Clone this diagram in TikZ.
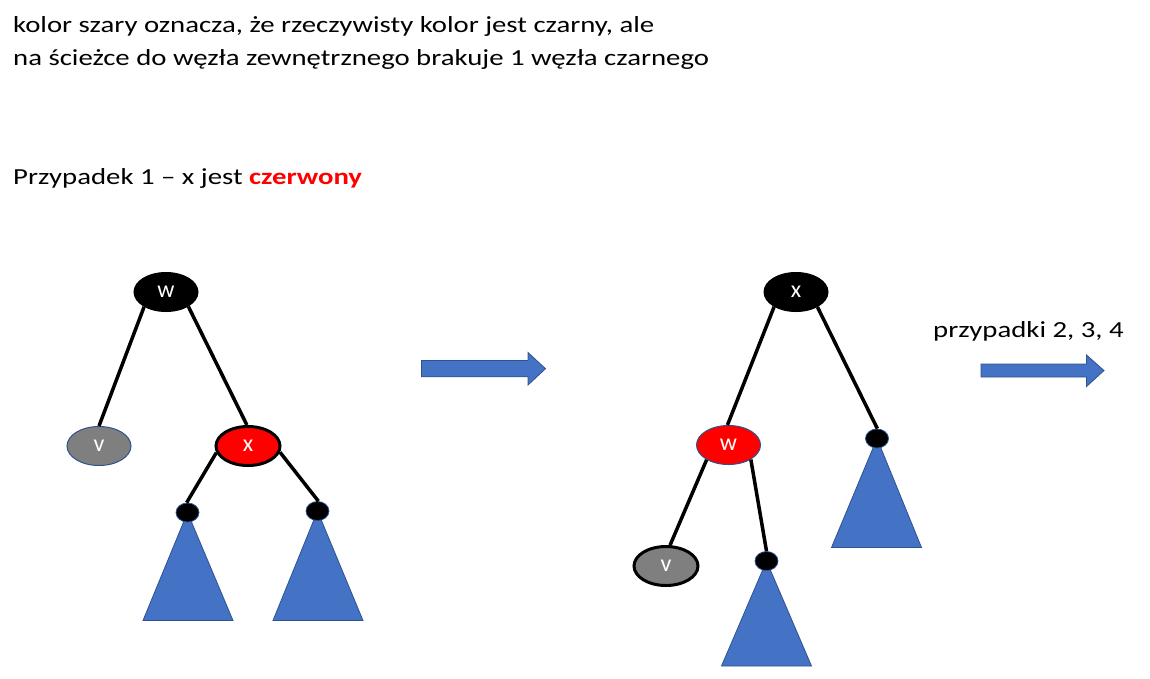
\documentclass[tikz,border=0pt]{standalone}
\usepackage{fontspec}
\setmainfont{Carlito}[FakeStretch=1.25]
\newfontfamily\labelfont{Carlito}
\usetikzlibrary{shapes.geometric,backgrounds}
\definecolor{tblue}{HTML}{4472C4}
\definecolor{tborder}{HTML}{2F528F}
\definecolor{tgray}{HTML}{7F7F7F}
\definecolor{tred}{HTML}{FF0000}
\tikzset{
  rbnode/.style={ellipse, minimum width=64pt, minimum height=39pt, inner sep=0pt,
     text=white, font=\labelfont\fontsize{24}{24}\selectfont},
  blacknode/.style={rbnode, fill=black, draw=black, line width=1pt},
  rednode/.style={rbnode, fill=tred, draw=tborder, line width=1pt},
  rednodethick/.style={rbnode, fill=tred, draw=black, line width=3pt},
  graynode/.style={rbnode, fill=tgray, draw=tborder, line width=1pt},
  graynodethick/.style={rbnode, fill=tgray, draw=black, line width=3pt},
  leaf/.style={ellipse, minimum width=23pt, minimum height=19pt, inner sep=0pt, fill=black, draw=tborder, line width=0.8pt},
  edge/.style={line width=3.5pt, black},
  subtree/.style={fill=tblue, draw=tborder, line width=0.8pt},
  blockarrow/.style={fill=tblue, draw=tborder, line width=0.8pt},
  txt/.style={anchor=base west, inner sep=0pt, font=\fontsize{23}{33}\selectfont}
}
\begin{document}
\begin{tikzpicture}[x=1pt, y=-1pt]
\useasboundingbox (0,0) rectangle (1150,678);

% texts
\node[txt] (t1) at (13,32) {kolor szary oznacza, że rzeczywisty kolor jest czarny, ale};
\node[txt] (t2) at (13,65) {na ścieżce do węzła zewnętrznego brakuje 1 węzła czarnego};
\node[txt] (t3) at (13,184) {Przypadek 1 -- x jest \textbf{\color{tred}czerwony}};
\node[txt] (t4) at (933,337) {przypadki 2, 3, 4};

% left tree
\node[blacknode] (lw) at (166,292) {w};
\node[graynode] (lv) at (99,446) {v};
\node[rednodethick] (lx) at (248,446) {x};
\node[leaf] (lda) at (187.5,512.5) {};
\node[leaf] (ldb) at (317.5,511) {};

% right tree
\node[blacknode] (rx) at (796,292) {x};
\node[rednode] (rw) at (728.5,445) {w};
\node[leaf] (rdc) at (877,438.5) {};
\node[graynodethick] (rv) at (666,566) {v};
\node[leaf] (rdd) at (766.5,561) {};

\begin{scope}[on background layer]
  \draw[subtree] (lda.center) -- (143,620.5) -- (233,620.5) -- cycle;
  \draw[subtree] (ldb.center) -- (273,620.5) -- (363,620.5) -- cycle;
  \draw[subtree] (rdc.center) -- (831.5,547.5) -- (921.5,547.5) -- cycle;
  \draw[subtree] (rdd.center) -- (721.5,666) -- (811.5,666) -- cycle;
\end{scope}

% edges left
\draw[edge] (lw.214) -- (lv.90);
\draw[edge] (lw.327) -- (lx.93);
\draw[edge] (lx.192) -- (lda.95);
\draw[edge] (lx.-11) -- (ldb.85);

% edges right
\draw[edge] (rx.214) -- (rw.93);
\draw[edge] (rx.325) -- (rdc.88);
\draw[edge] (rw.214) -- (rv.79);
\draw[edge] (rw.327) -- (rdd.90);

% block arrows
\draw[blockarrow] (421.5,360.5) -- (528,360.5) -- (528,352.5) -- (545.5,368.7)
   -- (528,385) -- (528,376.8) -- (421.5,376.8) -- cycle;
\draw[blockarrow] (981,364) -- (1086.5,364) -- (1086.5,355) -- (1104,370.5)
   -- (1086.5,386.5) -- (1086.5,377) -- (981,377) -- cycle;
\end{tikzpicture}
\end{document}
